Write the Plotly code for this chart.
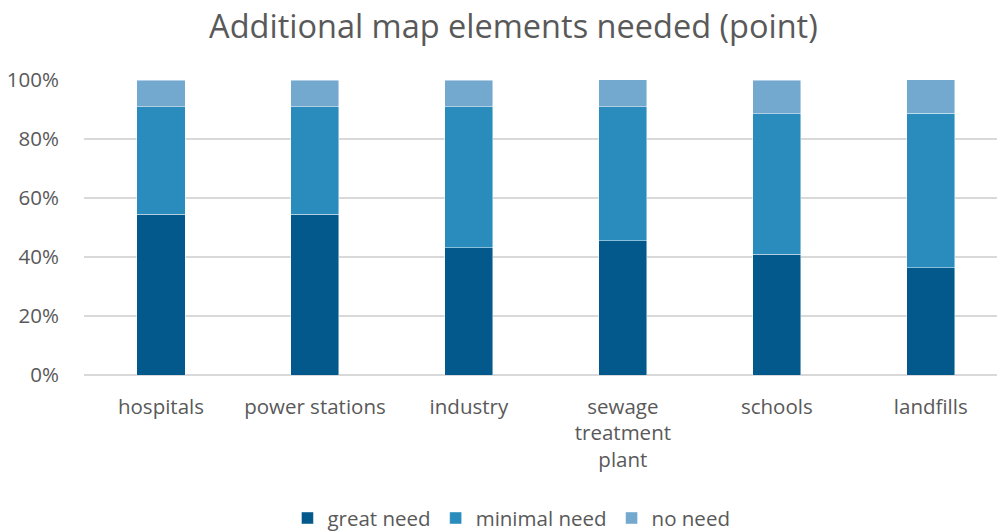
import plotly.graph_objects as go

categories = ["hospitals", "power stations", "industry", "sewage<br>treatment<br>plant", "schools", "landfills"]
great_need = [0.545, 0.545, 0.432, 0.455, 0.409, 0.364]
minimal_need = [0.364, 0.364, 0.477, 0.455, 0.477, 0.523]
no_need = [0.091, 0.091, 0.091, 0.091, 0.114, 0.114]
series_names = ["great need", "minimal need", "no need"]
colors = ["#03598C", "#2A8BBD", "#73A8CF"]

x = list(range(len(categories)))
fig = go.Figure()
for name, vals, col in zip(series_names, [great_need, minimal_need, no_need], colors):
    fig.add_trace(go.Bar(
        x=x, y=vals, name=name,
        marker=dict(color=col, line=dict(color="rgba(255,255,255,0.6)", width=0.75)),
    ))

font_family = "Open Sans, sans-serif"
fig.update_layout(
    barmode="stack",
    bargap=0.688,
    width=997, height=532,
    margin=dict(l=84, r=0, t=80, b=157, autoexpand=False),
    paper_bgcolor="white", plot_bgcolor="white",
    font=dict(family=font_family, color="#595959", size=21),
    title=dict(text="Additional map elements needed (point)", x=0.515, xanchor="center",
               y=0.95, yanchor="middle", font=dict(size=32.5, color="#595959", family=font_family)),
    legend=dict(orientation="h", xref="container", yref="container", x=0.513, xanchor="center",
                y=0.026, yanchor="middle",
                font=dict(size=20.5, color="#595959"), traceorder="normal", itemwidth=30),
    xaxis=dict(tickmode="array", tickvals=x, ticktext=categories, range=[-0.5, 5.43],
               showgrid=False, zeroline=False, showline=False, automargin=False,
               ticks="outside", ticklen=13, tickcolor="rgba(0,0,0,0)", tickfont=dict(size=20.5)),
    yaxis=dict(range=[0, 1], dtick=0.2, tickformat=".0%", showgrid=True, gridcolor="#D9D9D9",
               gridwidth=1.5, zeroline=True, zerolinecolor="#D9D9D9", zerolinewidth=1.5,
               showline=False, automargin=False, ticks="outside", ticklen=20,
               tickcolor="rgba(0,0,0,0)", tickfont=dict(size=20.5)),
)

fig.write_html("out.html")
